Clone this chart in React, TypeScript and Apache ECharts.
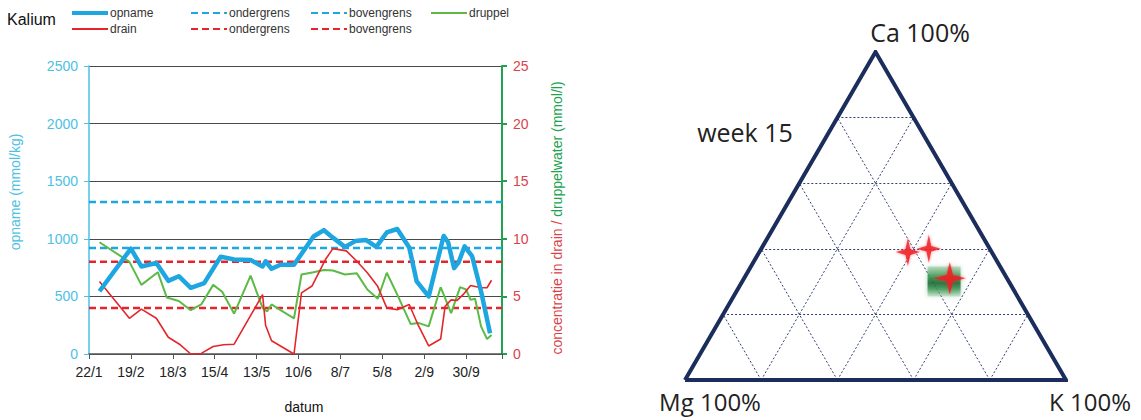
import React, { useEffect, useRef } from 'react';
import * as echarts from 'echarts';

// ---------- left chart: Kalium over time ----------
const TICK_LABELS = ['22/1', '19/2', '18/3', '15/4', '13/5', '10/6', '8/7', '5/8', '2/9', '30/9'];
const TICK_STEP_DAYS = 28;
const X_MAX_DAYS = 276;

// day offsets from 22/1 and values
const opnameDays = [7, 28, 35, 45, 53, 60, 68, 77, 88, 97, 108, 116, 118, 122, 128, 137, 150, 157, 163, 171, 178, 185, 192, 199, 206, 214, 219, 227, 237, 240, 244, 247, 251, 256, 262, 268];
const opnameValues = [545, 915, 760, 790, 635, 675, 575, 615, 845, 820, 815, 760, 805, 740, 775, 775, 1020, 1075, 1010, 930, 980, 990, 930, 1055, 1085, 925, 630, 500, 1025, 970, 745, 795, 935, 850, 545, 180];

const druppelDays = [7, 27, 35, 46, 52, 60, 68, 75, 83, 89, 97, 108, 116, 119, 122, 128, 137, 142, 150, 157, 163, 171, 179, 186, 193, 199, 206, 215, 220, 227, 235, 242, 248, 252, 255, 258, 262, 266, 269];
const druppelValues = [9.7, 8.0, 6.0, 7.1, 4.9, 4.6, 3.8, 4.3, 6.0, 5.4, 3.5, 6.8, 4.0, 3.7, 4.3, 3.8, 3.1, 6.9, 7.1, 7.3, 7.25, 6.9, 7.0, 5.6, 4.8, 7.05, 5.15, 2.6, 2.7, 2.4, 5.8, 3.55, 5.8, 5.6, 4.7, 4.8, 2.4, 1.3, 1.65];

const drainDays = [7, 27, 35, 45, 53, 61, 68, 75, 83, 90, 97, 116, 118, 122, 137, 142, 149, 158, 163, 172, 179, 186, 193, 199, 206, 214, 220, 227, 235, 238, 242, 246, 250, 255, 262, 266, 269];
const drainValues = [6.3, 3.1, 3.9, 3.1, 1.45, 0.8, 0, 0.05, 0.65, 0.8, 0.85, 5.15, 2.5, 1.15, 0, 5.3, 5.9, 8.2, 9.15, 8.95, 8.05, 7.05, 5.85, 4.0, 3.85, 4.3, 2.5, 0.7, 1.3, 4.15, 4.7, 4.65, 5.15, 5.95, 5.75, 5.75, 6.4];

const OPNAME_LOW = 920;
const OPNAME_HIGH = 1320;
const DRAIN_LOW = 4;
const DRAIN_HIGH = 8;

// ---------- right chart: ternary Ca / Mg / K ----------
const CORNER_LABELS = ['Ca 100%', 'Mg 100%', 'K 100%'];
const TERNARY_TITLE = 'week 15';
const GRID_STEPS = [0.2, 0.4, 0.6, 0.8];
const drainSampleCa = [0.39, 0.40, 0.31];
const drainSampleK = [0.39, 0.44, 0.54];
const dripSampleCa = [0.30];
const dripSampleK = [0.53];

const CYAN = '#1ea6e1';
const CYAN_AXIS = '#4dc1e3';
const RED = '#e4262c';
const RED_LABEL = '#d8434a';
const GREEN = '#5cba47';
const GREEN_AXIS = '#20a350';
const NAVY = '#1b2d5c';
const FONT = "'Liberation Sans', Arial, sans-serif";
const TFONT = "'Open Sans', sans-serif";

const zip = (xs: number[], ys: number[]) => xs.map((x, i) => [x, ys[i]]);
// ternary composition -> cartesian (Mg bottom-left, K bottom-right, Ca top)
const tern = (ca: number, k: number) => [k + ca / 2, ca];

function App() {
  const ref = useRef<HTMLDivElement>(null);
  useEffect(() => {
    if (!ref.current) return;
    const chart = echarts.init(ref.current, null, { renderer: 'svg' });

    const gridSegs: any[] = [];
    GRID_STEPS.forEach((t) => {
      gridSegs.push({ coords: [tern(t, 0), tern(t, 1 - t)] }); // constant Ca
      gridSegs.push({ coords: [tern(0, t), tern(1 - t, t)] }); // constant K
      gridSegs.push({ coords: [tern(0, 1 - t), tern(1 - t, 0)] }); // constant Mg
    });

    const dash = [7, 4];
    const limitLine = (name: string, v: number, color: string, yAxisIndex: number) => ({
      name,
      type: 'line',
      xAxisIndex: 0,
      yAxisIndex,
      symbol: 'none',
      data: [[0, v], [X_MAX_DAYS, v]],
      lineStyle: { color, width: 2.5, type: dash },
      itemStyle: { color },
      z: 3,
    });

    const starPath = 'path://M0,-10 L2,-2 L10,0 L2,2 L0,10 L-2,2 L-10,0 L-2,-2 Z';

    const legendBase = {
      orient: 'vertical',
      top: 7,
      padding: 0,
      itemWidth: 36,
      itemHeight: 14,
      itemGap: 4,
      selectedMode: false,
      itemStyle: { opacity: 0, borderWidth: 0 },
      textStyle: { fontSize: 12, color: '#333', fontFamily: FONT, padding: [0, 0, 0, -3] },
      formatter: (n: string) => n.trim(),
    };

    chart.setOption({
      animation: false,
      title: {
        text: 'Kalium',
        left: 7,
        top: 11,
        padding: 0,
        textStyle: { fontSize: 16, fontWeight: 'normal', color: '#111', fontFamily: FONT },
      },
      legend: [
        { ...legendBase, left: 70, data: [{ name: 'opname', lineStyle: { width: 4 } }, 'drain'] },
        { ...legendBase, left: 190, data: ['ondergrens', 'ondergrens '] },
        { ...legendBase, left: 310, data: ['bovengrens', 'bovengrens '] },
        { ...legendBase, left: 430, data: ['druppel'] },
      ],
      grid: [
        { left: 89, top: 66, width: 413, height: 288 },
        { left: 685, top: 52, width: 381, height: 328 },
      ],
      xAxis: [
        {
          type: 'value',
          gridIndex: 0,
          min: 0,
          max: X_MAX_DAYS,
          interval: TICK_STEP_DAYS,
          name: 'datum',
          nameLocation: 'middle',
          nameGap: 46,
          nameTextStyle: { fontSize: 14, color: '#111', fontFamily: FONT, padding: [0, 0, 0, 17] },
          axisLine: { show: true, lineStyle: { color: '#555', width: 1.5 } },
          axisTick: { show: true, length: 5, lineStyle: { color: '#555' } },
          axisLabel: {
            margin: 11,
            fontSize: 14,
            color: '#222',
            fontFamily: FONT,
            formatter: (v: number) => (v % TICK_STEP_DAYS === 0 ? TICK_LABELS[v / TICK_STEP_DAYS] ?? '' : ''),
          },
          splitLine: { show: false },
        },
        { type: 'value', gridIndex: 1, min: 0, max: 1, show: false },
      ],
      yAxis: [
        {
          type: 'value',
          gridIndex: 0,
          position: 'left',
          min: 0,
          max: 2500,
          interval: 500,
          axisLine: { show: true, lineStyle: { color: CYAN_AXIS, width: 1.5 } },
          axisTick: { show: true, length: 5, lineStyle: { color: CYAN_AXIS } },
          axisLabel: { margin: 11, fontSize: 14, color: CYAN_AXIS, fontFamily: FONT, formatter: (v: number) => String(v) },
          splitLine: { show: true, lineStyle: { color: '#4a4a4a', width: 1 } },
        },
        {
          type: 'value',
          gridIndex: 0,
          position: 'right',
          min: 0,
          max: 25,
          interval: 5,
          axisLine: { show: true, lineStyle: { color: GREEN_AXIS, width: 2 } },
          axisTick: { show: true, length: 5, lineStyle: { color: GREEN_AXIS, width: 2 } },
          axisLabel: { margin: 11, fontSize: 14, color: RED_LABEL, fontFamily: FONT, formatter: (v: number) => String(v) },
          splitLine: { show: false },
        },
        { type: 'value', gridIndex: 1, min: 0, max: 1, show: false },
      ],
      graphic: [
        {
          type: 'text',
          x: 15,
          y: 192,
          rotation: Math.PI / 2,
          style: {
            text: 'opname (mmol/kg)',
            fill: CYAN_AXIS,
            fontSize: 14,
            fontFamily: FONT,
            align: 'center',
            verticalAlign: 'middle',
          },
        },
        {
          type: 'text',
          x: 557,
          y: 218,
          rotation: Math.PI / 2,
          style: {
            text: '{r|concentratie in drain / }{g|druppelwater (mmol/l)}',
            fontSize: 14,
            fontFamily: FONT,
            align: 'center',
            verticalAlign: 'middle',
            rich: {
              r: { fill: RED_LABEL, fontSize: 14, fontFamily: FONT },
              g: { fill: GREEN_AXIS, fontSize: 14, fontFamily: FONT },
            },
          },
        },
        {
          type: 'text', x: 920, y: 32,
          style: { text: CORNER_LABELS[0], fill: '#222', fontSize: 25, fontFamily: TFONT, align: 'center', verticalAlign: 'middle' },
        },
        {
          type: 'text', x: 710, y: 401,
          style: { text: CORNER_LABELS[1], fill: '#222', fontSize: 24, fontFamily: TFONT, align: 'center', verticalAlign: 'middle' },
        },
        {
          type: 'text', x: 1090, y: 401,
          style: { text: CORNER_LABELS[2], fill: '#222', fontSize: 24, fontFamily: TFONT, align: 'center', verticalAlign: 'middle' },
        },
        {
          type: 'text', x: 745, y: 132,
          style: { text: TERNARY_TITLE, fill: '#222', fontSize: 25, fontFamily: TFONT, align: 'center', verticalAlign: 'middle' },
        },
      ],
      series: [
        limitLine('ondergrens', OPNAME_LOW, CYAN, 0),
        limitLine('bovengrens', OPNAME_HIGH, CYAN, 0),
        limitLine('ondergrens ', DRAIN_LOW, RED, 1),
        limitLine('bovengrens ', DRAIN_HIGH, RED, 1),
        {
          name: 'druppel',
          type: 'line',
          xAxisIndex: 0,
          yAxisIndex: 1,
          symbol: 'none',
          data: zip(druppelDays, druppelValues),
          lineStyle: { color: GREEN, width: 2 },
          itemStyle: { color: GREEN },
          z: 4,
        },
        {
          name: 'drain',
          type: 'line',
          xAxisIndex: 0,
          yAxisIndex: 1,
          symbol: 'none',
          data: zip(drainDays, drainValues),
          lineStyle: { color: RED, width: 1.6 },
          itemStyle: { color: RED },
          z: 4,
        },
        {
          name: 'opname',
          type: 'line',
          xAxisIndex: 0,
          yAxisIndex: 0,
          symbol: 'none',
          data: zip(opnameDays, opnameValues),
          lineStyle: { color: CYAN, width: 4.5, join: 'round' },
          itemStyle: { color: CYAN },
          z: 5,
        },
        // ternary diagram
        {
          name: 'ternary-grid',
          type: 'lines',
          coordinateSystem: 'cartesian2d',
          xAxisIndex: 1,
          yAxisIndex: 2,
          silent: true,
          data: gridSegs,
          lineStyle: { color: '#2f3f72', width: 1, type: [2, 2], opacity: 1 },
          z: 2,
        },
        {
          name: 'ternary-frame',
          type: 'line',
          xAxisIndex: 1,
          yAxisIndex: 2,
          symbol: 'none',
          silent: true,
          data: [tern(0, 0), tern(0, 1), tern(1, 0), tern(0, 0)],
          lineStyle: { color: NAVY, width: 4, join: 'miter' },
          z: 3,
        },
        {
          name: 'druppel-sample',
          type: 'scatter',
          xAxisIndex: 1,
          yAxisIndex: 2,
          silent: true,
          symbol: 'rect',
          symbolSize: [33, 30],
          data: dripSampleCa.map((ca, i) => tern(ca, dripSampleK[i])),
          itemStyle: {
            color: new echarts.graphic.LinearGradient(0, 0, 0, 1, [
              { offset: 0, color: 'rgba(130,195,140,0.55)' },
              { offset: 0.35, color: '#2f8a48' },
              { offset: 0.55, color: '#0a5e26' },
              { offset: 0.75, color: '#3d9656' },
              { offset: 1, color: 'rgba(140,200,150,0.4)' },
            ]),
            shadowBlur: 4,
            shadowColor: 'rgba(60,150,80,0.6)',
          },
          z: 4,
        },
        {
          name: 'drain-sample',
          type: 'scatter',
          xAxisIndex: 1,
          yAxisIndex: 2,
          silent: true,
          symbol: starPath,
          symbolSize: (_v: any, p: any) => (p.dataIndex === 2 ? [32, 32] : [24, 28]),
          data: drainSampleCa.map((ca, i) => tern(ca, drainSampleK[i])),
          itemStyle: { color: '#ee1c25', shadowBlur: 3, shadowColor: 'rgba(255,40,40,0.7)' },
          z: 5,
        },
      ],
    });
    return () => chart.dispose();
  }, []);
  return (
    <div
      ref={ref}
      style={{ position: 'fixed', left: 0, top: 0, width: 1141, height: 420, background: '#fff' }}
    />
  );
}

export default App;
